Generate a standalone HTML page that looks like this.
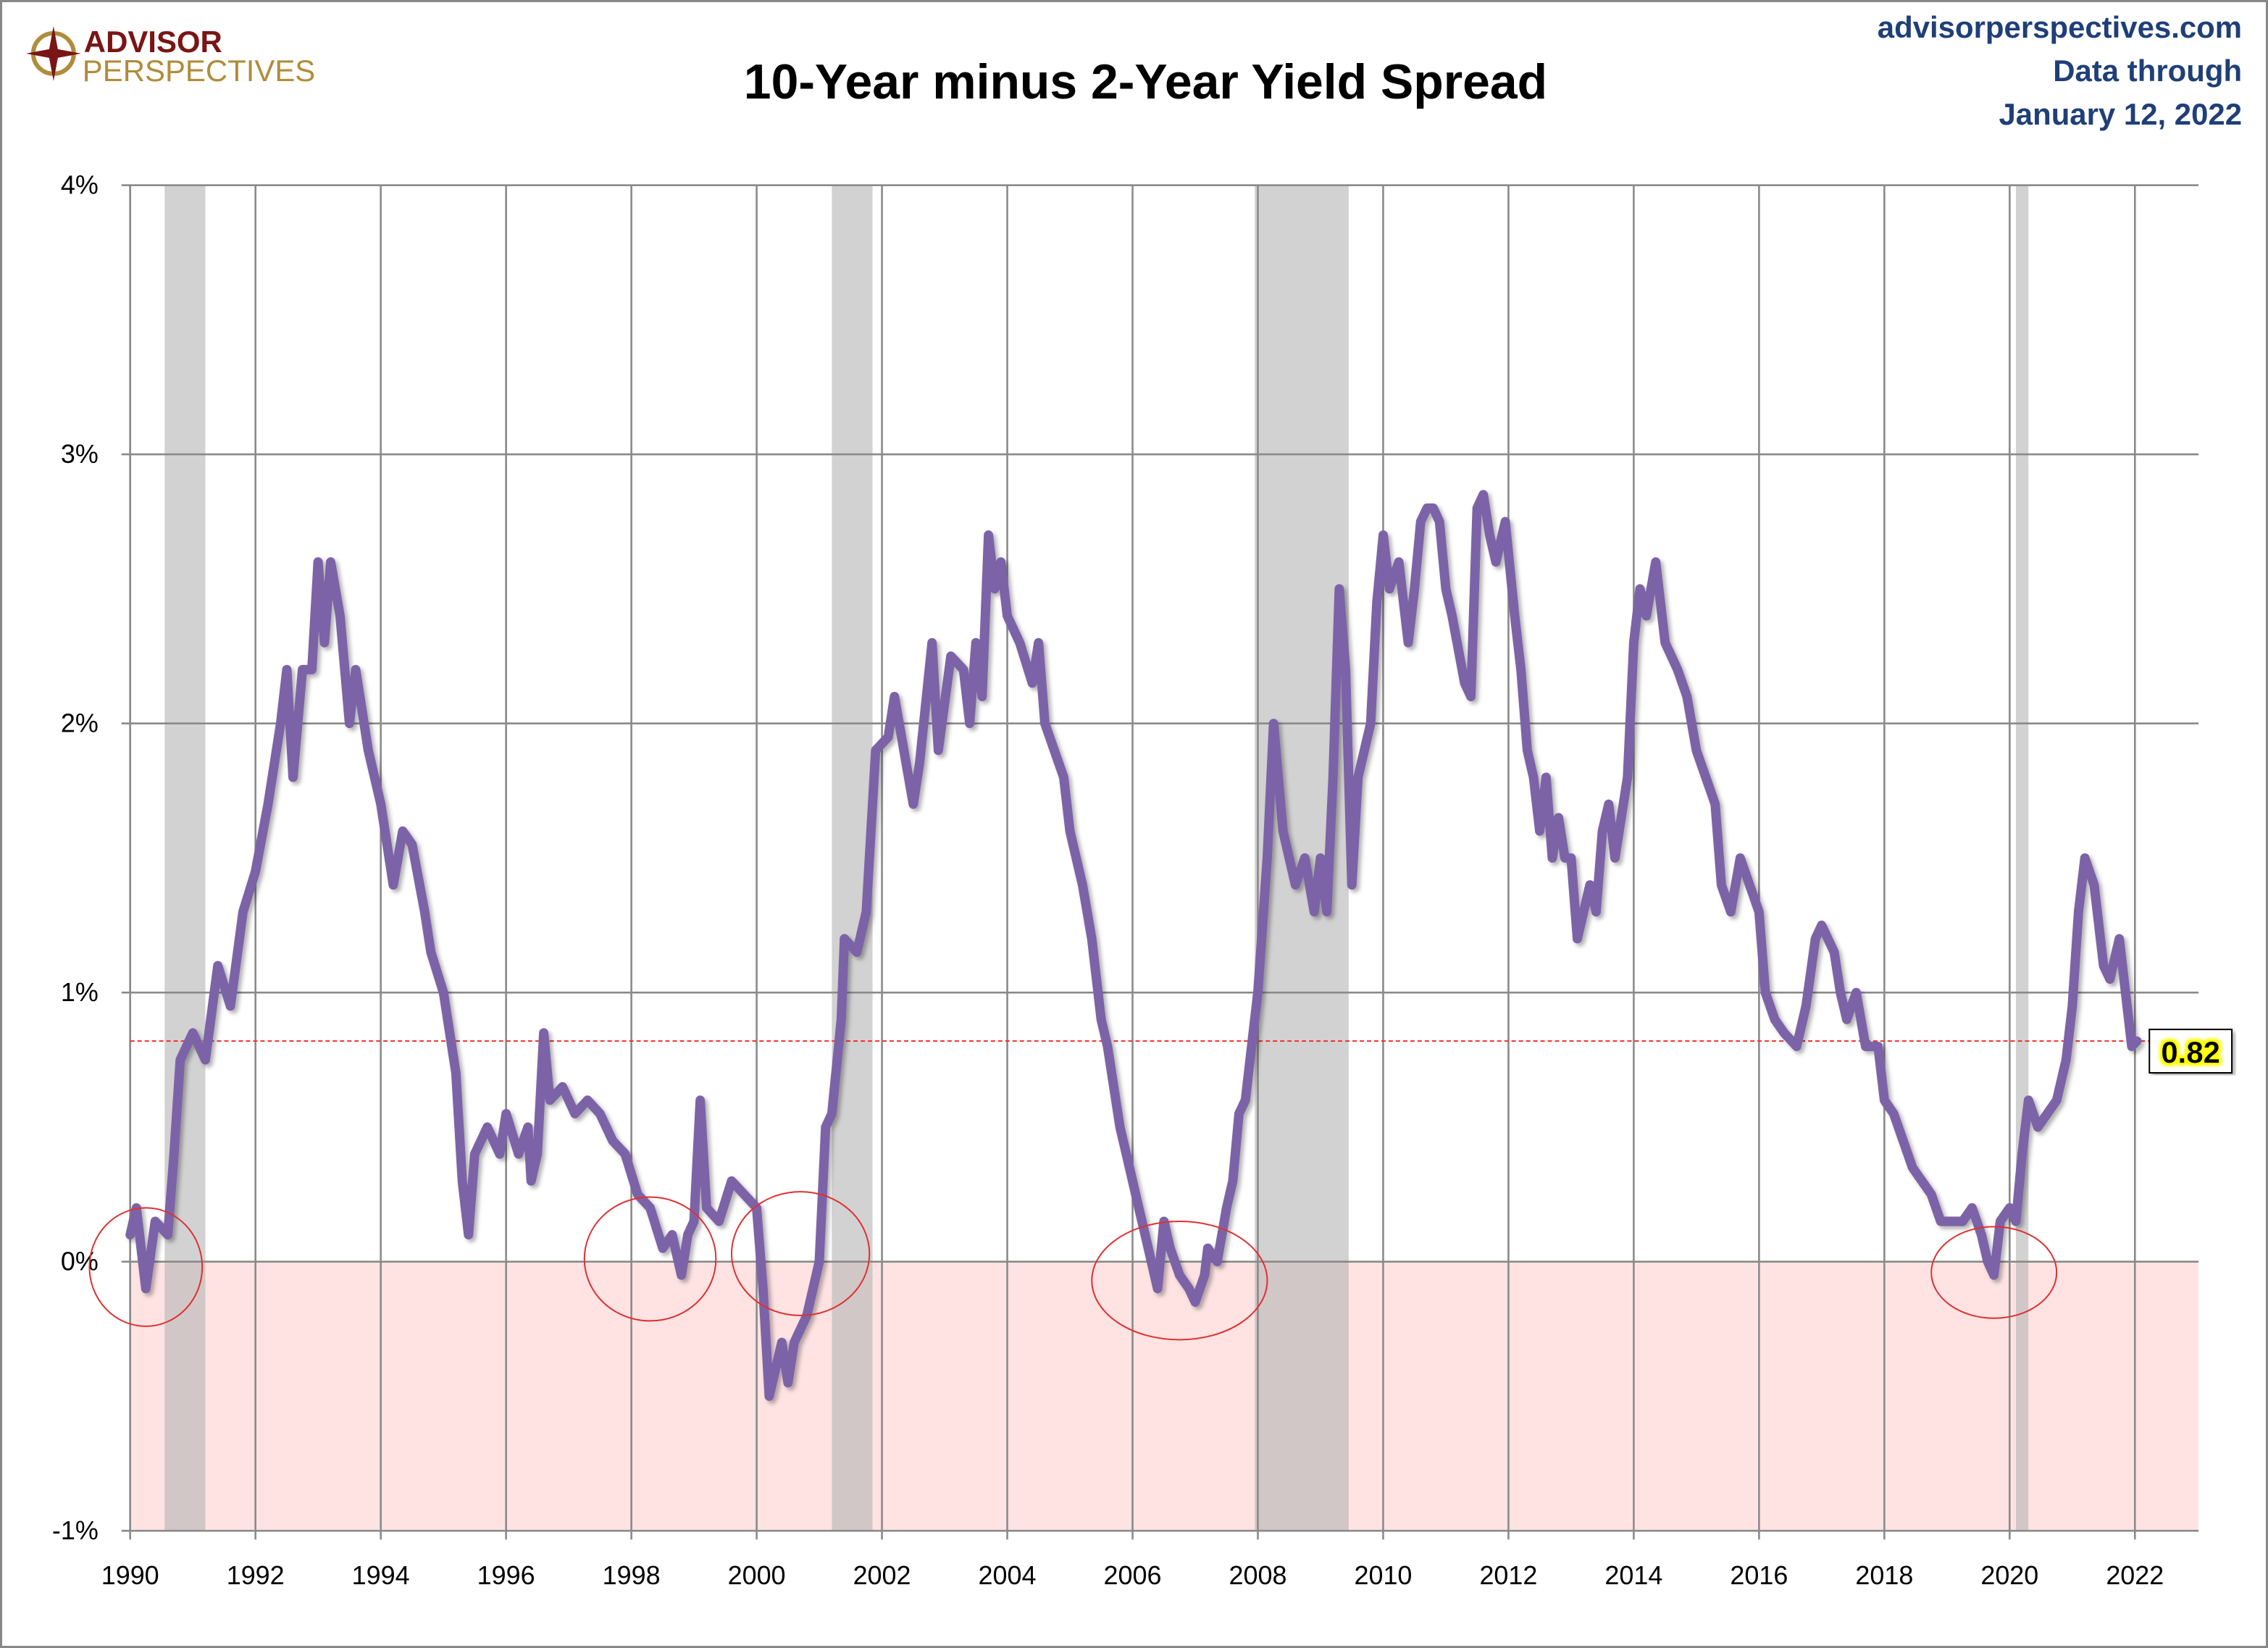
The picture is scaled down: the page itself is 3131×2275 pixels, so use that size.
<!DOCTYPE html>
<html><head><meta charset="utf-8"><style>
html,body{margin:0;padding:0;background:#fff;}
svg{display:block;}
</style></head><body>
<svg width="3131" height="2275" viewBox="0 0 1568 1139" preserveAspectRatio="none" xmlns="http://www.w3.org/2000/svg">
<defs><filter id="sh" x="-5%" y="-5%" width="110%" height="110%"><feDropShadow dx="2" dy="2" stdDeviation="1.5" flood-color="#000" flood-opacity="0.3"/></filter>
<filter id="glow"><feMorphology operator="dilate" radius="1.5" in="SourceAlpha" result="d"/><feGaussianBlur in="d" stdDeviation="1.2" result="b"/><feFlood flood-color="#ffff00"/><feComposite in2="b" operator="in" result="g"/><feMerge><feMergeNode in="g"/><feMergeNode in="g"/><feMergeNode in="SourceGraphic"/></feMerge></filter></defs>
<rect x="0.75" y="0.75" width="1566.5" height="1137.5" fill="#fff" stroke="#888" stroke-width="1.5"/>
<g>
<circle cx="37" cy="37" r="14" fill="none" stroke="#b08d3c" stroke-width="3"/>
<polygon points="37,18 40,34 56,37 40,40 37,56 34,40 18,37 34,34" fill="#7a1515"/>
<text x="58" y="36" font-family="Liberation Sans, sans-serif" font-weight="bold" font-size="21" fill="#7a1515">ADVISOR</text>
<text x="57" y="56" font-family="Liberation Sans, sans-serif" font-size="21" fill="#b08d3c">PERSPECTIVES</text>
</g>
<text x="792" y="68" text-anchor="middle" font-family="Liberation Sans, sans-serif" font-weight="bold" font-size="34" fill="#000">10-Year minus 2-Year Yield Spread</text>
<g font-family="Liberation Sans, sans-serif" font-weight="bold" font-size="21" fill="#1f3f78" text-anchor="end">
<text x="1550" y="26">advisorperspectives.com</text>
<text x="1550" y="56">Data through</text>
<text x="1550" y="86">January 12, 2022</text>
</g>
<g id="plot"></g>
</svg>
<script>
const years=[1990.0,1990.1,1990.25,1990.4,1990.6,1990.7,1990.8,1991.0,1991.2,1991.4,1991.6,1991.8,1992.0,1992.2,1992.4,1992.5,1992.6,1992.75,1992.9,1993.0,1993.1,1993.2,1993.35,1993.5,1993.6,1993.8,1994.0,1994.1,1994.2,1994.35,1994.5,1994.7,1994.8,1995.0,1995.1,1995.2,1995.3,1995.4,1995.5,1995.7,1995.9,1996.0,1996.2,1996.35,1996.4,1996.5,1996.6,1996.7,1996.9,1997.1,1997.3,1997.5,1997.7,1997.9,1998.1,1998.3,1998.5,1998.65,1998.8,1998.9,1999.0,1999.1,1999.2,1999.4,1999.6,1999.8,2000.0,2000.1,2000.2,2000.4,2000.5,2000.6,2000.8,2001.0,2001.1,2001.2,2001.35,2001.4,2001.6,2001.75,2001.9,2002.1,2002.2,2002.35,2002.5,2002.6,2002.8,2002.9,2003.1,2003.3,2003.4,2003.5,2003.6,2003.7,2003.8,2003.9,2004.0,2004.2,2004.4,2004.5,2004.6,2004.75,2004.9,2005.0,2005.2,2005.35,2005.5,2005.6,2005.8,2005.9,2006.1,2006.2,2006.3,2006.4,2006.5,2006.6,2006.75,2006.9,2007.0,2007.15,2007.2,2007.35,2007.5,2007.6,2007.7,2007.8,2007.9,2008.0,2008.15,2008.25,2008.4,2008.6,2008.75,2008.9,2009.0,2009.1,2009.2,2009.3,2009.4,2009.5,2009.6,2009.8,2009.9,2010.0,2010.1,2010.25,2010.4,2010.5,2010.6,2010.7,2010.8,2010.9,2011.0,2011.1,2011.3,2011.4,2011.5,2011.6,2011.7,2011.8,2011.95,2012.1,2012.2,2012.3,2012.4,2012.5,2012.6,2012.7,2012.8,2012.9,2013.0,2013.1,2013.3,2013.4,2013.5,2013.6,2013.7,2013.9,2014.0,2014.1,2014.2,2014.35,2014.5,2014.7,2014.85,2015.0,2015.15,2015.3,2015.4,2015.55,2015.7,2015.85,2016.0,2016.1,2016.25,2016.4,2016.6,2016.75,2016.9,2017.0,2017.2,2017.3,2017.4,2017.55,2017.7,2017.9,2018.0,2018.15,2018.3,2018.45,2018.6,2018.75,2018.9,2019.05,2019.25,2019.4,2019.55,2019.65,2019.75,2019.85,2020.0,2020.1,2020.2,2020.3,2020.45,2020.6,2020.75,2020.9,2021.0,2021.1,2021.2,2021.35,2021.5,2021.6,2021.75,2021.85,2021.95,2022.03];
const spread=[0.1,0.2,-0.1,0.15,0.1,0.4,0.75,0.85,0.75,1.1,0.95,1.3,1.45,1.7,2.0,2.2,1.8,2.2,2.2,2.6,2.3,2.6,2.4,2.0,2.2,1.9,1.7,1.55,1.4,1.6,1.55,1.3,1.15,1.0,0.85,0.7,0.3,0.1,0.4,0.5,0.4,0.55,0.4,0.5,0.3,0.4,0.85,0.6,0.65,0.55,0.6,0.55,0.45,0.4,0.25,0.2,0.05,0.1,-0.05,0.1,0.15,0.6,0.2,0.15,0.3,0.25,0.2,-0.1,-0.5,-0.3,-0.45,-0.3,-0.2,0.0,0.5,0.55,0.9,1.2,1.15,1.3,1.9,1.95,2.1,1.9,1.7,1.85,2.3,1.9,2.25,2.2,2.0,2.3,2.1,2.7,2.5,2.6,2.4,2.3,2.15,2.3,2.0,1.9,1.8,1.6,1.4,1.2,0.9,0.8,0.5,0.4,0.2,0.1,0.0,-0.1,0.15,0.05,-0.05,-0.1,-0.15,-0.05,0.05,0.0,0.2,0.3,0.55,0.6,0.8,1.0,1.5,2.0,1.6,1.4,1.5,1.3,1.5,1.3,1.8,2.5,2.2,1.4,1.8,2.0,2.45,2.7,2.5,2.6,2.3,2.5,2.75,2.8,2.8,2.75,2.5,2.4,2.15,2.1,2.8,2.85,2.7,2.6,2.75,2.4,2.2,1.9,1.8,1.6,1.8,1.5,1.65,1.5,1.5,1.2,1.4,1.3,1.6,1.7,1.5,1.8,2.3,2.5,2.4,2.6,2.3,2.2,2.1,1.9,1.8,1.7,1.4,1.3,1.5,1.4,1.3,1.0,0.9,0.85,0.8,0.95,1.2,1.25,1.15,1.0,0.9,1.0,0.8,0.8,0.6,0.55,0.45,0.35,0.3,0.25,0.15,0.15,0.15,0.2,0.1,0.0,-0.05,0.15,0.2,0.15,0.4,0.6,0.5,0.55,0.6,0.75,0.95,1.3,1.5,1.4,1.1,1.05,1.2,1.0,0.8,0.82];
const recStart=[1990.55,2001.2,2007.95,2020.1];
const recEnd=[1991.2,2001.85,2009.45,2020.3];
const yTicks=[-1,0,1,2,3,4];
const yTickLabels=['-1%','0%','1%','2%','3%','4%'];
const xTicks=[1990,1992,1994,1996,1998,2000,2002,2004,2006,2008,2010,2012,2014,2016,2018,2020,2022];
const lastValue=0.82;
const circleX=[1990.25,1998.3,2000.7,2006.75,2019.75];
const circleY=[-0.02,0.01,0.03,-0.07,-0.04];
const circleRX=[0.9,1.05,1.1,1.4,1.0];
const circleRY=[0.22,0.23,0.23,0.22,0.17];

const L=90,R=1520,T=128,B=1058;
const X0=90,XK=(1476-90)/32;
const xs=y=>X0+(y-1990)*XK;
const ys=v=>872-v*186;
const NS='http://www.w3.org/2000/svg';
const g=document.getElementById('plot');
function mk(tag,attrs,parent){const e=document.createElementNS(NS,tag);for(const k in attrs)e.setAttribute(k,attrs[k]);(parent||g).appendChild(e);return e;}

let e=mk('rect',{x:L,y:ys(0),width:R-L,height:ys(-1)-ys(0),fill:'#ffe3e3'});


recStart.forEach((s,i)=>{
 const r=mk('rect',{x:xs(s),y:T,width:xs(recEnd[i])-xs(s),height:B-T,fill:'#b4b4b4','fill-opacity':0.6});
 
 
});
yTicks.forEach((v,i)=>{
 const l=mk('line',{x1:L-6,x2:R,y1:ys(v),y2:ys(v),stroke:'#8a8a8a','stroke-width':1.3});
 
 
 const t=mk('text',{x:68,y:ys(v)+6,'text-anchor':'end','font-family':'Liberation Sans, sans-serif','font-size':18,fill:'#000'});
 t.textContent=yTickLabels[i];
 
 
});
xTicks.forEach(y=>{
 const l=mk('line',{x1:xs(y),x2:xs(y),y1:T,y2:B+6,stroke:'#8a8a8a','stroke-width':1.3});
 
 
 const t=mk('text',{x:xs(y),y:1095,'text-anchor':'middle','font-family':'Liberation Sans, sans-serif','font-size':18,fill:'#000'});
 t.textContent=y;
 
 
});
const rl=mk('line',{x1:L,x2:L,y1:T,y2:B,stroke:'#8a8a8a','stroke-width':1.3});


const dl=mk('line',{x1:L,x2:R,y1:ys(lastValue),y2:ys(lastValue),stroke:'#f03030','stroke-width':1,'stroke-dasharray':'3,2'});


const pts=years.map((y,i)=>xs(y).toFixed(1)+','+ys(spread[i]).toFixed(1)).join(' ');
const pl=mk('polyline',{points:pts,fill:'none',stroke:'#7b64a8','stroke-width':6.5,'stroke-linejoin':'round','stroke-linecap':'round',filter:'url(#sh)'});


circleX.forEach((c,i)=>{
 const el=mk('ellipse',{cx:xs(c),cy:ys(circleY[i]),rx:circleRX[i]*XK,ry:circleRY[i]*186,fill:'none',stroke:'#e03030','stroke-width':1});
 
 
});
const bx=mk('rect',{x:1486,y:ys(lastValue)-8,width:57,height:30,fill:'#fff',stroke:'#000','stroke-width':1,filter:'url(#sh)'});


const bt=mk('text',{x:1514.5,y:ys(lastValue)+15,'text-anchor':'middle','font-family':'Liberation Sans, sans-serif','font-weight':'bold','font-size':21,fill:'#000',filter:'url(#glow)'});
bt.textContent=lastValue.toFixed(2);


</script>
</body></html>
